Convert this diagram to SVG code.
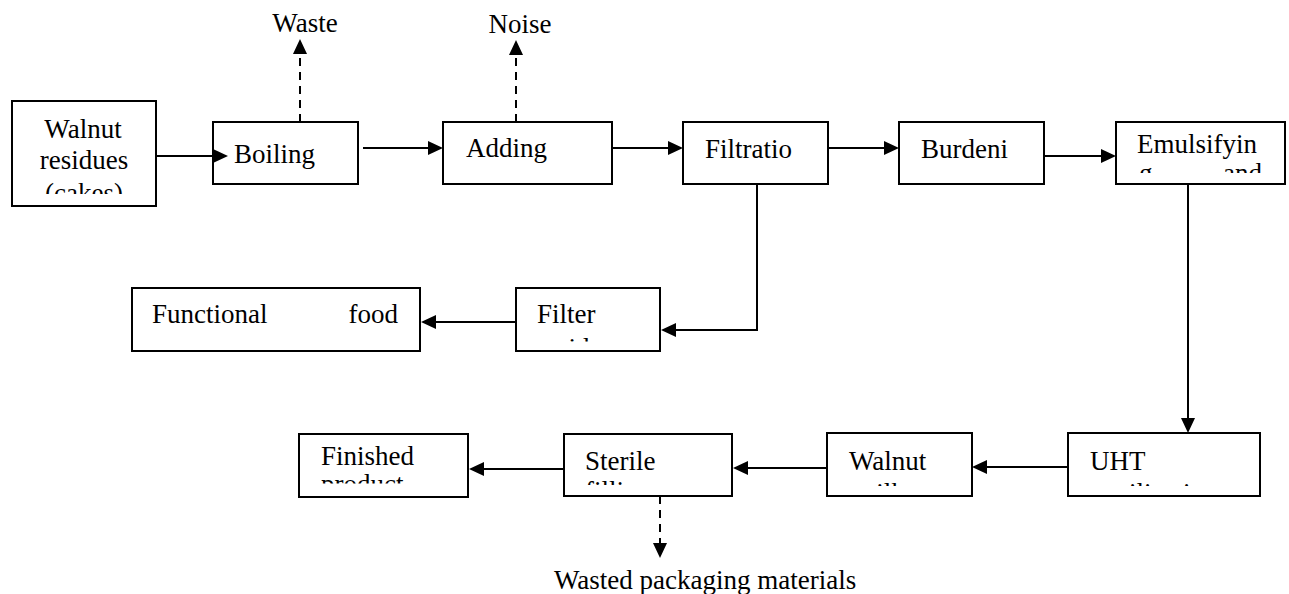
<svg xmlns="http://www.w3.org/2000/svg" width="1289" height="594" viewBox="0 0 1289 594">
  <style>
    .box { fill: #fff; stroke: #000; stroke-width: 2; }
    .lbl { font-family: "Liberation Serif", "Times New Roman", serif; font-size: 27px; fill: #000; }
    .mid { text-anchor: middle; }
    .end { text-anchor: end; }
    .flow { fill: none; stroke: #000; stroke-width: 2; marker-end: url(#arrow); }
    .dash { stroke-dasharray: 8 6; }
  </style>
  <defs>
    <marker id="arrow" markerUnits="userSpaceOnUse" markerWidth="16" markerHeight="14" refX="12" refY="7" orient="auto">
      <path d="M0,0 L15,7 L0,14 Z" fill="#000"/>
    </marker>
    <!-- text areas of the boxes; wrapped second lines are cut off at these edges -->
    <clipPath id="clip-residues"><rect x="12" y="101" width="144" height="93"/></clipPath>
    <clipPath id="clip-emulsifying"><rect x="1116" y="122" width="169" height="51"/></clipPath>
    <clipPath id="clip-filter"><rect x="516" y="288" width="144" height="53.5"/></clipPath>
    <clipPath id="clip-uht"><rect x="1068" y="433" width="192" height="53"/></clipPath>
    <clipPath id="clip-milk"><rect x="827" y="433" width="145" height="53"/></clipPath>
    <clipPath id="clip-sterile"><rect x="564" y="434" width="168" height="51"/></clipPath>
    <clipPath id="clip-finished"><rect x="299" y="434" width="169" height="49.5"/></clipPath>
  </defs>

  <rect x="0" y="0" width="1289" height="594" fill="#fff"/>

  <!-- side outputs -->
  <g id="out-waste"><text class="lbl mid" x="305" y="32">Waste</text></g>
  <g id="out-noise"><text class="lbl mid" x="520" y="33">Noise</text></g>
  <g id="out-packaging"><text class="lbl" x="554" y="589">Wasted packaging materials</text></g>

  <!-- process steps -->
  <g id="n-walnut-residues">
    <rect class="box" x="12" y="101" width="144" height="105"/>
    <g clip-path="url(#clip-residues)">
      <text class="lbl mid" x="83" y="138">Walnut</text>
      <text class="lbl mid" x="84" y="169">residues</text>
      <text class="lbl mid" x="84" y="202">(cakes)</text>
    </g>
  </g>

  <g id="n-boiling">
    <rect class="box" x="213" y="122" width="145" height="62"/>
    <text class="lbl" x="234" y="163">Boiling</text>
  </g>

  <g id="n-adding">
    <rect class="box" x="443" y="122" width="169" height="62"/>
    <text class="lbl" x="466" y="157">Adding</text>
  </g>

  <g id="n-filtration">
    <rect class="box" x="683" y="122" width="145" height="62"/>
    <text class="lbl" x="705" y="158">Filtratio</text>
  </g>

  <g id="n-burdening">
    <rect class="box" x="899" y="122" width="145" height="62"/>
    <text class="lbl" x="921" y="158">Burdeni</text>
  </g>

  <g id="n-emulsifying">
    <rect class="box" x="1116" y="122" width="169" height="62"/>
    <g clip-path="url(#clip-emulsifying)">
      <text class="lbl" x="1137" y="153">Emulsifyin</text>
      <text class="lbl" x="1139" y="182">g</text>
      <text class="lbl end" x="1262" y="182">and</text>
    </g>
  </g>

  <g id="n-filter-residue">
    <rect class="box" x="516" y="288" width="144" height="63"/>
    <g clip-path="url(#clip-filter)">
      <text class="lbl" x="537" y="323">Filter</text>
      <text class="lbl" x="537" y="357">residue</text>
    </g>
  </g>

  <g id="n-functional-food">
    <rect class="box" x="132" y="288" width="288" height="63"/>
    <text class="lbl" x="152" y="323">Functional</text>
    <text class="lbl end" x="398" y="323">food</text>
  </g>

  <g id="n-uht">
    <rect class="box" x="1068" y="433" width="192" height="63"/>
    <g clip-path="url(#clip-uht)">
      <text class="lbl" x="1090" y="470">UHT</text>
      <text class="lbl" x="1090" y="502">sterilization</text>
    </g>
  </g>

  <g id="n-walnut-milk">
    <rect class="box" x="827" y="433" width="145" height="63"/>
    <g clip-path="url(#clip-milk)">
      <text class="lbl" x="849" y="470">Walnut</text>
      <text class="lbl mid" x="880" y="502">milk</text>
    </g>
  </g>

  <g id="n-sterile-filling">
    <rect class="box" x="564" y="434" width="168" height="62"/>
    <g clip-path="url(#clip-sterile)">
      <text class="lbl" x="585" y="470">Sterile</text>
      <text class="lbl" x="585" y="500">filling</text>
    </g>
  </g>

  <g id="n-finished-product">
    <rect class="box" x="299" y="434" width="169" height="63"/>
    <g clip-path="url(#clip-finished)">
      <text class="lbl" x="321" y="465">Finished</text>
      <text class="lbl" x="321" y="493">product</text>
    </g>
  </g>

  <!-- connectors, drawn over the boxes so arrowheads that run into a box stay visible -->
  <g id="connectors">
    <path class="flow" d="M156,156 H225"/>
    <path class="flow" d="M363,148 H440"/>
    <path class="flow" d="M612,148 H680"/>
    <path class="flow" d="M828,148 H896"/>
    <path class="flow" d="M1044,156 H1113"/>
    <path class="flow" d="M1188,184 V430"/>
    <path class="flow" d="M757,184 V330 H664"/>
    <path class="flow" d="M516,322 H424"/>
    <path class="flow" d="M1068,467 H975"/>
    <path class="flow" d="M827,468 H736"/>
    <path class="flow" d="M564,469 H472"/>
    <path class="flow dash" d="M300,122 V42"/>
    <path class="flow dash" d="M516,122 V43"/>
    <path class="flow dash" d="M660,496 V555"/>
  </g>
</svg>
